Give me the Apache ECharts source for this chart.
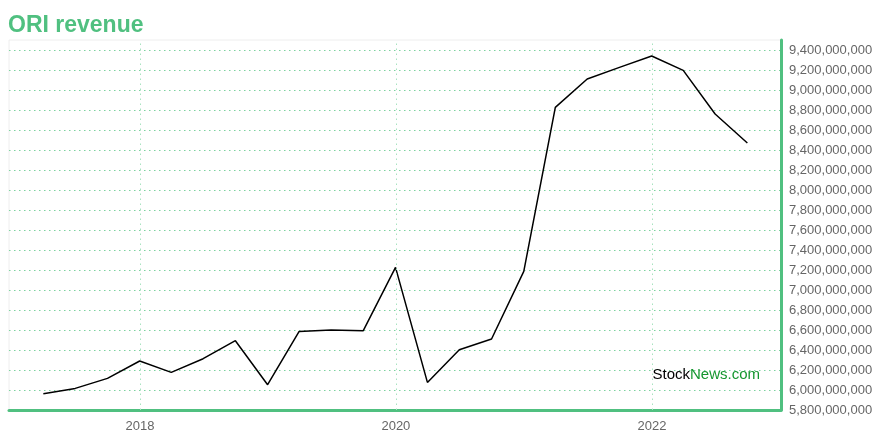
<!DOCTYPE html>
<html>
<head>
<meta charset="utf-8">
<script src="https://cdn.jsdelivr.net/npm/echarts@6/dist/echarts.min.js"></script>
<style>html,body{margin:0;padding:0;background:#fff;}#c{width:880px;height:440px;}</style>
</head>
<body>
<div id="c"></div>
<script>
var dates = ['2017-03-31','2017-06-30','2017-09-30','2017-12-31','2018-03-31','2018-06-30','2018-09-30','2018-12-31','2019-03-31','2019-06-30','2019-09-30','2019-12-31','2020-03-31','2020-06-30','2020-09-30','2020-12-31','2021-03-31','2021-06-30','2021-09-30','2021-12-31','2022-03-31','2022-06-30','2022-09-30'];
var revenue = [5963e6,6016e6,6116e6,6290e6,6176e6,6313e6,6493e6,6053e6,6586e6,6600e6,6593e6,7226e6,6076e6,6403e6,6510e6,7186e6,8826e6,9110e6,9226e6,9340e6,9196e6,8760e6,8470e6];
var yTicks = {min: 5.8e9, max: 9.5e9, interval: 2e8};
var xRange = {min: '2016-12-23', max: '2023-01-04'};
var yearLines = ['2018-01-01','2020-01-01','2022-01-01'];

var green = '#50c080';
var chart = echarts.init(document.getElementById('c'), null, {renderer: 'canvas'});
function fmt(v){ return String(Math.round(v)).replace(/\B(?=(\d{3})+(?!\d))/g, ','); }
chart.setOption({
  animation: false,
  title: {text: 'ORI revenue', left: 3, top: 9, textStyle: {color: green, fontSize: 23, fontWeight: 'bold', fontFamily: 'Liberation Sans, Arial, sans-serif'}},
  grid: {left: 9, right: 99, top: 40, bottom: 30, show: true, borderColor: '#eeeeee', borderWidth: 1, containLabel: false},
  xAxis: {
    type: 'time', min: xRange.min, max: xRange.max,
    axisLine: {show: true, lineStyle: {color: green, width: 3}},
    axisTick: {show: false},
    splitLine: {show: false},
    axisLabel: {show: false}
  },
  yAxis: {
    type: 'value', position: 'right', min: yTicks.min, max: yTicks.max, interval: yTicks.interval,
    axisLine: {show: true, lineStyle: {color: green, width: 3}},
    axisTick: {show: false},
    splitLine: {show: true, showMaxLine: false, showMinLine: false, lineStyle: {color: '#7cd29f', type: [1.5, 3.5], width: 1}},
    axisLabel: {color: '#666', fontSize: 13, margin: 8, fontFamily: 'Liberation Sans, Arial, sans-serif', showMaxLabel: false,
      formatter: function(v){ return (Math.round(v/1e8) % 2 === 0) ? fmt(v) : ''; }}
  },
  series: [{
    type: 'line', data: dates.map(function(d,i){ return [d, revenue[i]]; }),
    showSymbol: false, symbol: 'none',
    lineStyle: {color: '#000', width: 1.5},
    markLine: {
      silent: true, symbol: 'none',
      label: {show: true, position: 'start', distance: 10, color: '#666', fontSize: 13, fontFamily: 'Liberation Sans, Arial, sans-serif',
        formatter: function(p){ return p.value ? new Date(p.value).getFullYear() : ''; }},
      lineStyle: {color: '#a8e3c0', type: [1.5, 3.5], width: 1},
      data: yearLines.map(function(d){ return {xAxis: d}; })
    },
    z: 3
  }],
  graphic: [{
    type: 'text', right: 120, bottom: 58,
    style: {
      text: '{a|Stock}{b|News.com}',
      rich: {
        a: {fill: '#000', fontSize: 15, fontFamily: 'Liberation Sans, Arial, sans-serif'},
        b: {fill: '#14962f', fontSize: 15, fontFamily: 'Liberation Sans, Arial, sans-serif'}
      }
    },
    z: 10
  }]
});
</script>
</body>
</html>
